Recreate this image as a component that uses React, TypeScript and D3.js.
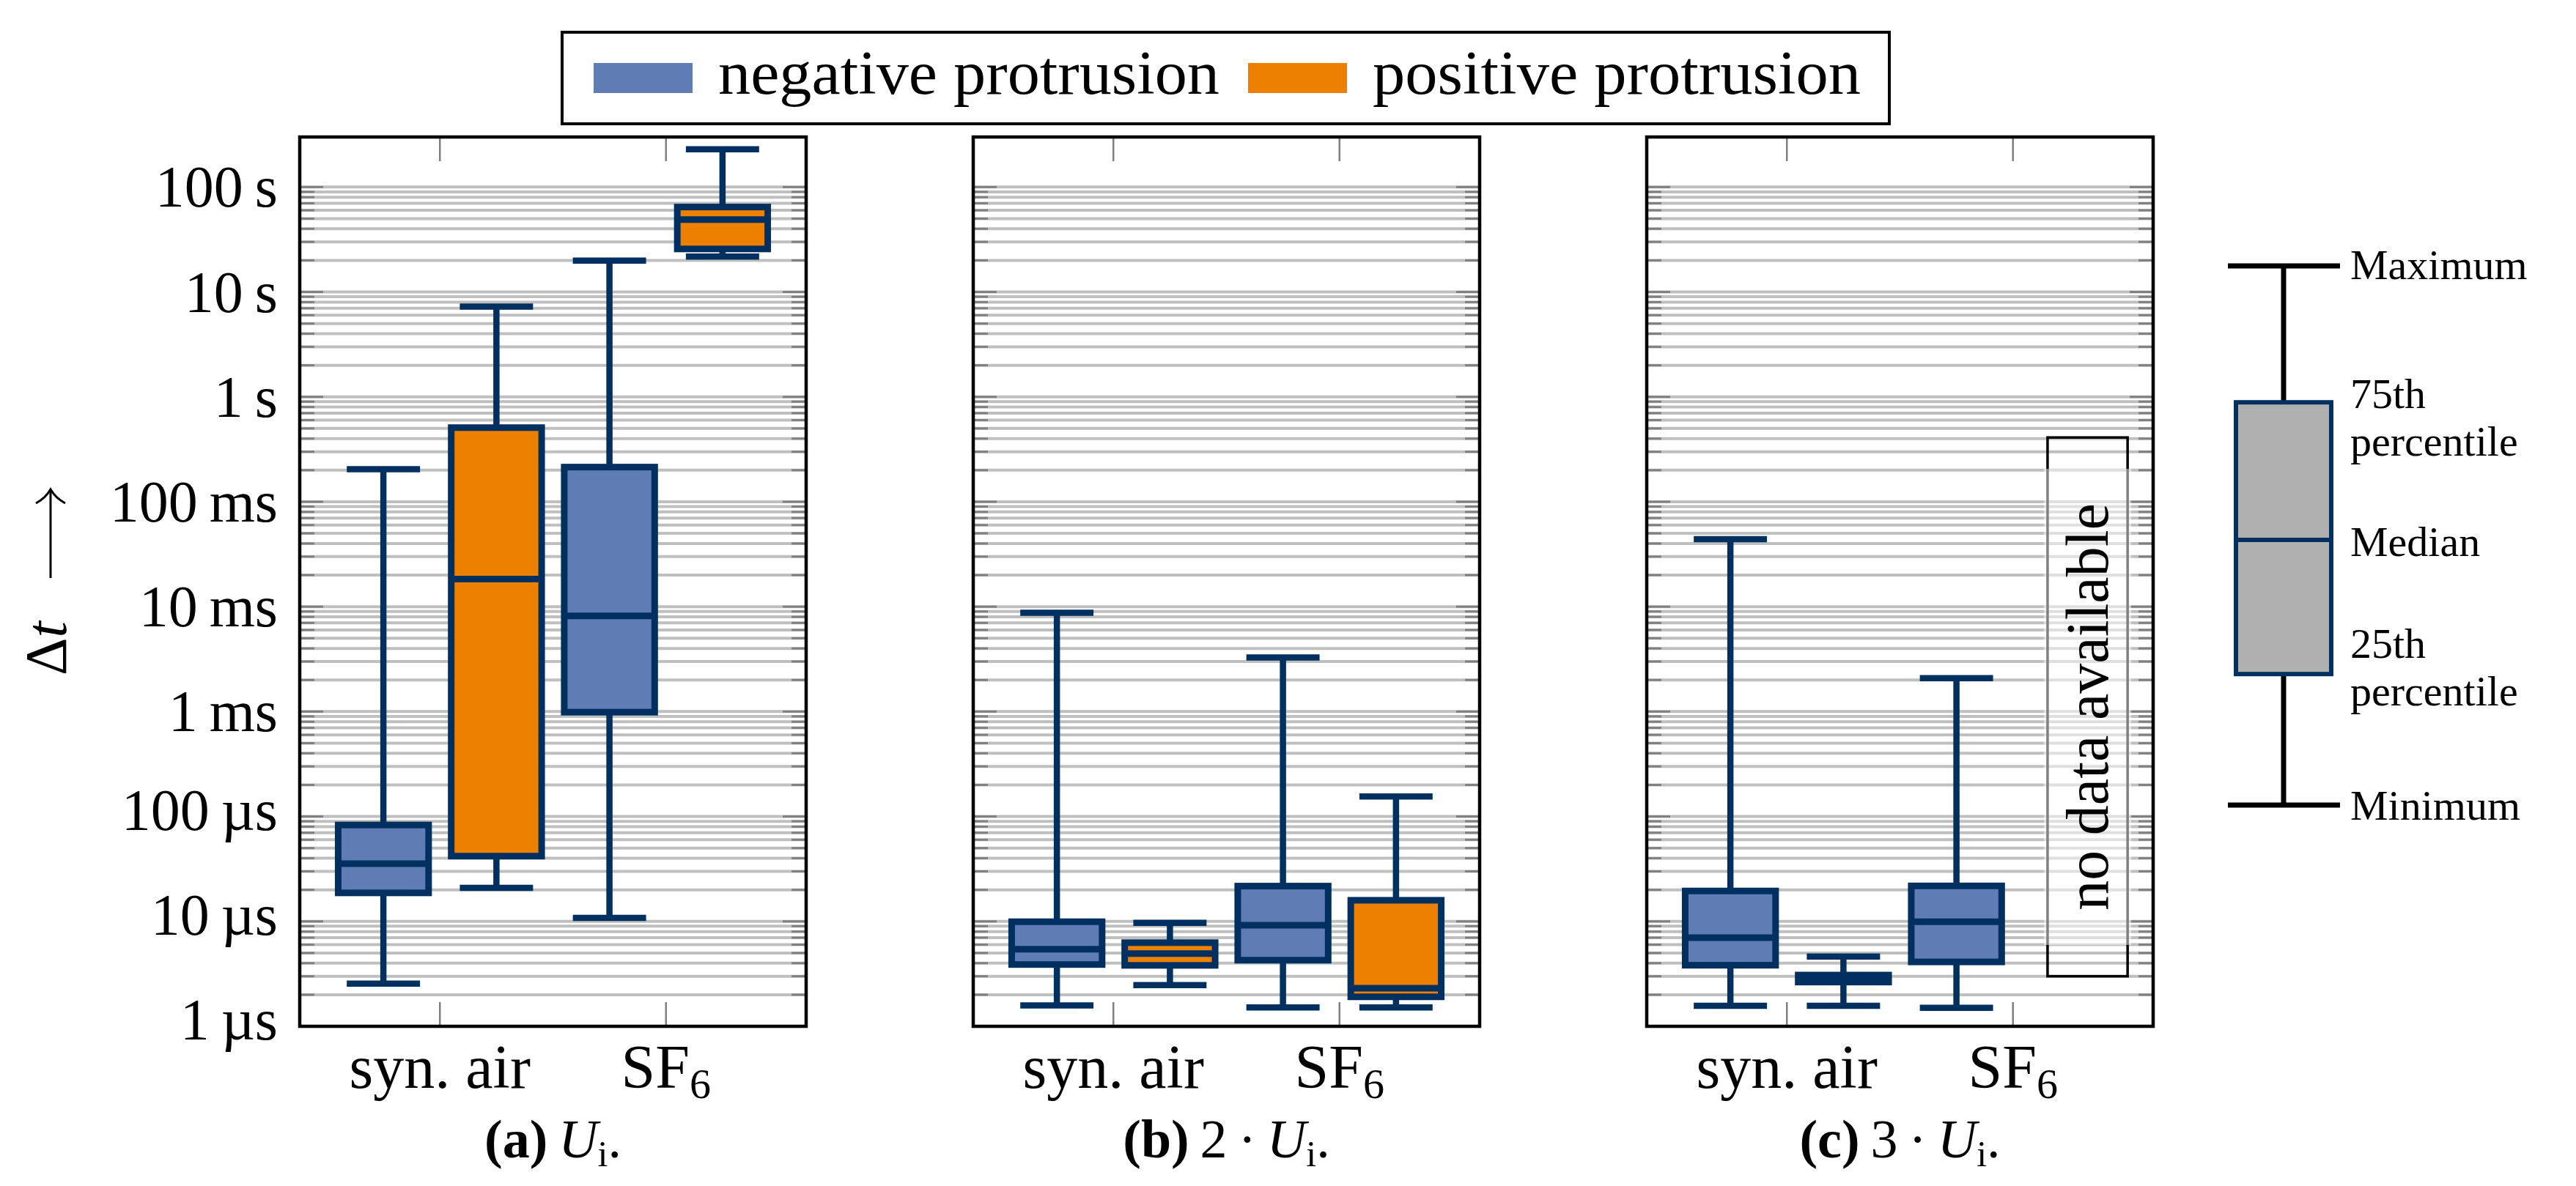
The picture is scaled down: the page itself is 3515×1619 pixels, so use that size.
import React from "react";
import * as d3 from "d3";

const W = 3515;
const H = 1619;
const FONT = "'Liberation Serif', 'DejaVu Serif', serif";

const categories = ["syn. air", "SF6"];
const seriesNames = ["negative protrusion", "positive protrusion"];
const seriesColors = ["#607cb5", "#ee8000"];
const navy = "#003060";
const panelTags = ["(a)", "(b)", "(c)"];
const panelFactors = ["", "2\u2009\u00b7\u2009", "3\u2009\u00b7\u2009"];

// five-number summaries [min, q1, median, q3, max], in seconds
const negA = [
  [2.55e-6, 18.7e-6, 35.5e-6, 83e-6, 0.204],
  [10.8e-6, 0.987e-3, 8.16e-3, 0.214, 19.9],
];
const posA = [
  [20.9e-6, 41.9e-6, 18.3e-3, 0.509, 7.24],
  [21.7, 25.7, 48.9, 64.5, 229],
];
const negB = [
  [1.58e-6, 3.88e-6, 5.44e-6, 9.93e-6, 8.74e-3],
  [1.51e-6, 4.27e-6, 9.18e-6, 21.7e-6, 3.28e-3],
];
const posB = [
  [2.47e-6, 3.81e-6, 4.93e-6, 6.27e-6, 9.68e-6],
  [1.51e-6, 1.91e-6, 2.31e-6, 15.9e-6, 155e-6],
];
const negC = [
  [1.57e-6, 3.82e-6, 7.0e-6, 19.5e-6, 44e-3],
  [1.5e-6, 4.11e-6, 9.93e-6, 21.8e-6, 2.08e-3],
];
const posC = [[1.57e-6, 2.64e-6, 2.85e-6, 3.08e-6, 4.62e-6], null];

const panelData = [
  [negA, posA],
  [negB, posB],
  [negC, posC],
];

const yTickValues = [1e-6, 1e-5, 1e-4, 1e-3, 1e-2, 1e-1, 1, 10, 100];
const yTickLabels = ["1 µs", "10 µs", "100 µs", "1 ms", "10 ms", "100 ms", "1 s", "10 s", "100 s"];

// explanatory glyph on the right
const keyValues = [0, 0.243, 0.492, 0.747, 1];
const keyLabels = [["Minimum"], ["25th", "percentile"], ["Median"], ["75th", "percentile"], ["Maximum"]];
const keyShift = [20, -22, 22, 8, 18];

// "no data available" placeholder in panel (c)
const noDataX = 2.33;
const noDataSpan = [3.0e-6, 0.41];

export default function App() {
  const panelW = 691;
  const panelStep = 919;
  const left0 = 409;
  const top = 187;
  const bottom = 1401;

  const x = d3.scaleLinear().domain([0.38, 2.62]).range([0, panelW]);
  const y = d3.scaleLog().domain([1e-6, 300]).range([bottom, top]);
  const unit = x(1) - x(0);
  const offsets = [-0.25, 0.25];
  const boxHalf = unit * 0.2;
  const capHalf = unit * 0.162;

  const minor: number[] = [];
  d3.range(-6, 2).forEach((e) => {
    for (let k = 2; k <= 9; k++) minor.push(k * Math.pow(10, e));
  });

  const key = d3.scaleLinear().domain([0, 1]).range([1099, 363]);
  const keyX = 3116;

  return (
    <div style={{ position: "absolute", left: 0, top: 0 }}>
      <svg width={W} height={H} style={{ display: "block", background: "#fff" }} fontFamily={FONT}>
        {/* legend */}
        <rect x={767} y={44} width={1811} height={125} fill="#fff" stroke="#000" strokeWidth={4} />
        {seriesNames.map((name, i) => {
          const lx = [810, 1703][i];
          return (
            <g key={name}>
              <rect x={lx} y={86} width={135} height={41} fill={seriesColors[i]} />
              <text
                x={lx + 170}
                y={128}
                fontSize={84}
                fill="#000"
                textLength={[684, 666][i]}
                lengthAdjust="spacingAndGlyphs"
              >
                {name}
              </text>
            </g>
          );
        })}

        {/* y label */}
        <text transform="translate(90,922) rotate(-90)" fontSize={80} fill="#000">
          Δ<tspan fontStyle="italic">t</tspan>
        </text>
        <path d="M69,789 L69,668" stroke="#000" strokeWidth={3} fill="none" />
        <path d="M49,687 Q62,680 69,668 Q76,680 89,687" stroke="#000" strokeWidth={3} fill="none" />

        {/* y tick labels */}
        {yTickValues.map((v, i) => (
          <text
            key={v}
            x={left0 - 30}
            y={y(v) + 27 - (yTickLabels[i].includes("µ") ? 9 : 0)}
            textAnchor="end"
            fontSize={80}
            fill="#000"
          >
            {yTickLabels[i].replace(" ", "\u2009")}
          </text>
        ))}

        {panelData.map((series, p) => {
          const px = left0 + p * panelStep;
          return (
            <g key={p} transform={`translate(${px},0)`}>
              {/* grid */}
              {[...minor, ...yTickValues.slice(1)].map((v) => (
                <line key={"g" + v} x1={0} x2={panelW} y1={y(v)} y2={y(v)} stroke="#bfbfbf" strokeWidth={4} />
              ))}
              {minor.map((v) => (
                <g key={"m" + v}>
                  <line x1={0} x2={20} y1={y(v)} y2={y(v)} stroke="#808080" strokeWidth={3} />
                  <line x1={panelW - 20} x2={panelW} y1={y(v)} y2={y(v)} stroke="#808080" strokeWidth={3} />
                </g>
              ))}
              {yTickValues.slice(1).map((v) => (
                <g key={"M" + v}>
                  <line x1={0} x2={32} y1={y(v)} y2={y(v)} stroke="#808080" strokeWidth={3} />
                  <line x1={panelW - 32} x2={panelW} y1={y(v)} y2={y(v)} stroke="#808080" strokeWidth={3} />
                </g>
              ))}
              {categories.map((c, i) => (
                <g key={"xt" + c}>
                  <line x1={x(i + 1)} x2={x(i + 1)} y1={top} y2={top + 33} stroke="#808080" strokeWidth={2.5} />
                  <line x1={x(i + 1)} x2={x(i + 1)} y1={bottom} y2={bottom - 33} stroke="#808080" strokeWidth={2.5} />
                </g>
              ))}

              {/* boxes */}
              {series.map((cats, s) =>
                cats.map((d, c) => {
                  if (!d) return null;
                  const [mn, q1, med, q3, mx] = d;
                  const cx = x(c + 1 + offsets[s]);
                  return (
                    <g key={`${s}-${c}`} stroke={navy}>
                      <line x1={cx} x2={cx} y1={y(q3)} y2={y(mx)} strokeWidth={8.5} />
                      <line x1={cx} x2={cx} y1={y(q1)} y2={y(mn)} strokeWidth={8.5} />
                      <line x1={cx - capHalf} x2={cx + capHalf} y1={y(mx)} y2={y(mx)} strokeWidth={8.5} />
                      <line x1={cx - capHalf} x2={cx + capHalf} y1={y(mn)} y2={y(mn)} strokeWidth={8.5} />
                      <rect
                        x={cx - boxHalf}
                        y={y(q3)}
                        width={boxHalf * 2}
                        height={y(q1) - y(q3)}
                        fill={seriesColors[s]}
                        strokeWidth={9}
                      />
                      <line x1={cx - boxHalf} x2={cx + boxHalf} y1={y(med)} y2={y(med)} strokeWidth={9} />
                    </g>
                  );
                })
              )}

              {/* no data placeholder */}
              {series[1].some((d) => !d) &&
                (() => {
                  const cx = x(noDataX);
                  const hw = unit * 0.177;
                  const y0 = y(noDataSpan[1]);
                  const y1 = y(noDataSpan[0]);
                  const mid = (y0 + y1) / 2;
                  return (
                    <g>
                      <rect x={cx - hw} y={y0} width={hw * 2} height={y1 - y0} fill="none" stroke="#000" strokeWidth={3.5} />
                      <rect x={cx - hw - 5} y={mid - 325} width={hw * 2 + 10} height={650} fill="#fff" fillOpacity={0.5} />
                      <text
                        transform={`translate(${cx + 27},${mid}) rotate(-90)`}
                        textAnchor="middle"
                        fontSize={82}
                        fill="#000"
                      >
                        no data available
                      </text>
                    </g>
                  );
                })()}

              {/* frame */}
              <rect x={0} y={top} width={panelW} height={bottom - top} fill="none" stroke="#000" strokeWidth={4.5} />

              {/* x labels */}
              {categories.map((c, i) => (
                <text key={"xl" + c} x={x(i + 1)} y={1485} textAnchor="middle" fontSize={84} fill="#000">
                  {c === "SF6" ? (
                    <>
                      SF<tspan fontSize={58} dy={14}>6</tspan>
                    </>
                  ) : (
                    c
                  )}
                </text>
              ))}

              {/* caption */}
              <text x={panelW / 2} y={1580} textAnchor="middle" fontSize={74} fill="#000">
                <tspan fontWeight="bold">{panelTags[p]}</tspan>
                {"\u2009" + panelFactors[p]}
                <tspan fontStyle="italic">U</tspan>
                <tspan fontSize={50} dy={12}>i</tspan>
                <tspan dy={-12}>.</tspan>
              </text>
            </g>
          );
        })}

        {/* explanatory glyph */}
        <g>
          <line x1={keyX} x2={keyX} y1={key(keyValues[3])} y2={key(keyValues[4])} stroke="#000" strokeWidth={7} />
          <line x1={keyX} x2={keyX} y1={key(keyValues[1])} y2={key(keyValues[0])} stroke="#000" strokeWidth={7} />
          <line x1={keyX - 76} x2={keyX + 77} y1={key(keyValues[4])} y2={key(keyValues[4])} stroke="#000" strokeWidth={7} />
          <line x1={keyX - 76} x2={keyX + 77} y1={key(keyValues[0])} y2={key(keyValues[0])} stroke="#000" strokeWidth={7} />
          <rect
            x={keyX - 65}
            y={key(keyValues[3])}
            width={130}
            height={key(keyValues[1]) - key(keyValues[3])}
            fill="#b0b0b0"
            stroke={navy}
            strokeWidth={6}
          />
          <line x1={keyX - 65} x2={keyX + 65} y1={key(keyValues[2])} y2={key(keyValues[2])} stroke={navy} strokeWidth={6} />
          {keyLabels.map((lines, i) =>
            lines.map((l, j) => (
              <text key={`${i}-${j}`} x={3207} y={key(keyValues[i]) + keyShift[i] + j * 65} fontSize={58} fill="#000">
                {l}
              </text>
            ))
          )}
        </g>
      </svg>
    </div>
  );
}
